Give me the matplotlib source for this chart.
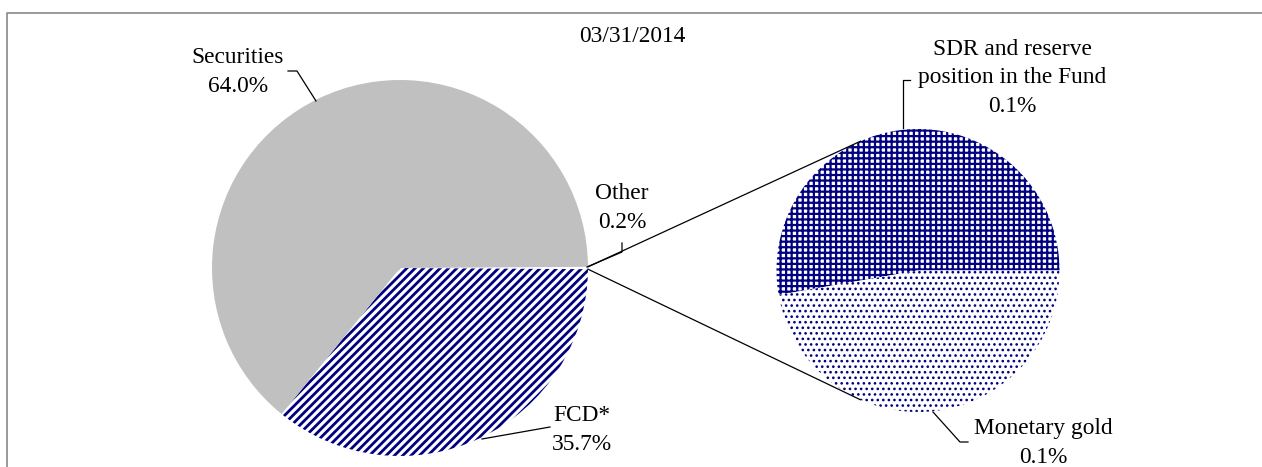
import matplotlib
matplotlib.use('Agg')
import matplotlib.pyplot as plt
import numpy as np

# data (03/31/2014)
main_labels = ['Other', 'FCD*', 'Securities']
main_values = [0.2, 35.7, 64.0]
sub_labels = ['SDR and reserve\nposition in the Fund', 'Monetary gold']
sub_values = [0.105, 0.094]
date_label = '03/31/2014'

W, H = 1262, 467
NAVY = '#000080'
plt.rcParams['font.family'] = ['Liberation Serif', 'DejaVu Serif']
plt.rcParams['font.size'] = 16.8


def fy(y):
    # pixel row (from the top) -> data y
    return H - y


def main():
    fig = plt.figure(figsize=(W / 100, H / 100), dpi=100)
    ax = fig.add_axes([0, 0, 1, 1])
    ax.set_xlim(0, W)
    ax.set_ylim(0, H)
    ax.set_aspect('equal')
    ax.axis('off')

    c1, r1 = (400, fy(268)), 188
    c2, r2 = (918, fy(270.5)), 141.5

    frac_other = main_values[0] / sum(main_values)
    w1, _ = ax.pie(main_values, center=c1, radius=r1, counterclock=False,
                   startangle=360 * frac_other / 2,
                   colors=['white', 'white', '#C0C0C0'],
                   hatch=['', '////', ''],
                   wedgeprops=dict(linewidth=0, edgecolor=NAVY))
    w2, _ = ax.pie(sub_values, center=c2, radius=r2, counterclock=True,
                   startangle=0, colors=['white', 'white'],
                   hatch=['+++', '...'],
                   wedgeprops=dict(linewidth=0, edgecolor=NAVY))
    for w, lw in [(w1[1], 2.0), (w2[0], 1.6), (w2[1], 1.1)]:
        if hasattr(w, 'set_hatch_linewidth'):
            w.set_hatch_linewidth(lw)
    ax.set_xlim(0, W)
    ax.set_ylim(0, H)

    # connector lines between the "Other" slice and the second pie
    half = np.deg2rad(360 * frac_other / 2)
    for s in (1, -1):
        x0 = c1[0] + r1 * np.cos(s * half)
        y0 = c1[1] + r1 * np.sin(s * half)
        a = np.deg2rad(s * 114)
        x1 = c2[0] + r2 * np.cos(a)
        y1 = c2[1] + r2 * np.sin(a)
        ax.plot([x0, x1], [y0, y1], color='black', lw=0.9)

    # leader lines (pixel coords)
    leaders = [
        [(288, 71), (297, 71), (316, 101)],
        [(587, 267), (622, 252), (622, 243)],
        [(482, 439), (550, 427)],
        [(903, 128), (903, 80), (910, 80)],
        [(933, 412), (960, 442), (968, 442)],
    ]
    for pts in leaders:
        xs = [p[0] for p in pts]
        ys = [fy(p[1]) for p in pts]
        ax.plot(xs, ys, color='black', lw=0.9)

    def lab(x, y, name, val):
        ax.text(x, fy(y), '%s\n%.1f%%' % (name, val), ha='center', va='center',
                linespacing=1.45)

    lab(238, 72, main_labels[2], main_values[2])
    lab(622, 208, main_labels[0], main_values[0])
    lab(582, 430, main_labels[1], main_values[1])
    lab(1012, 78, sub_labels[0], sub_values[0])
    lab(1043, 443, sub_labels[1], sub_values[1])
    ax.text(632, fy(37), date_label, ha='center', va='center')

    # chart frame (only top and left edges are inside the picture)
    ax.plot([7, 7, W + 5], [fy(H + 5), fy(13), fy(13)], color='#888888', lw=1.2,
            clip_on=False)

    fig.savefig('out.png', dpi=100)


if __name__ == '__main__':
    main()
